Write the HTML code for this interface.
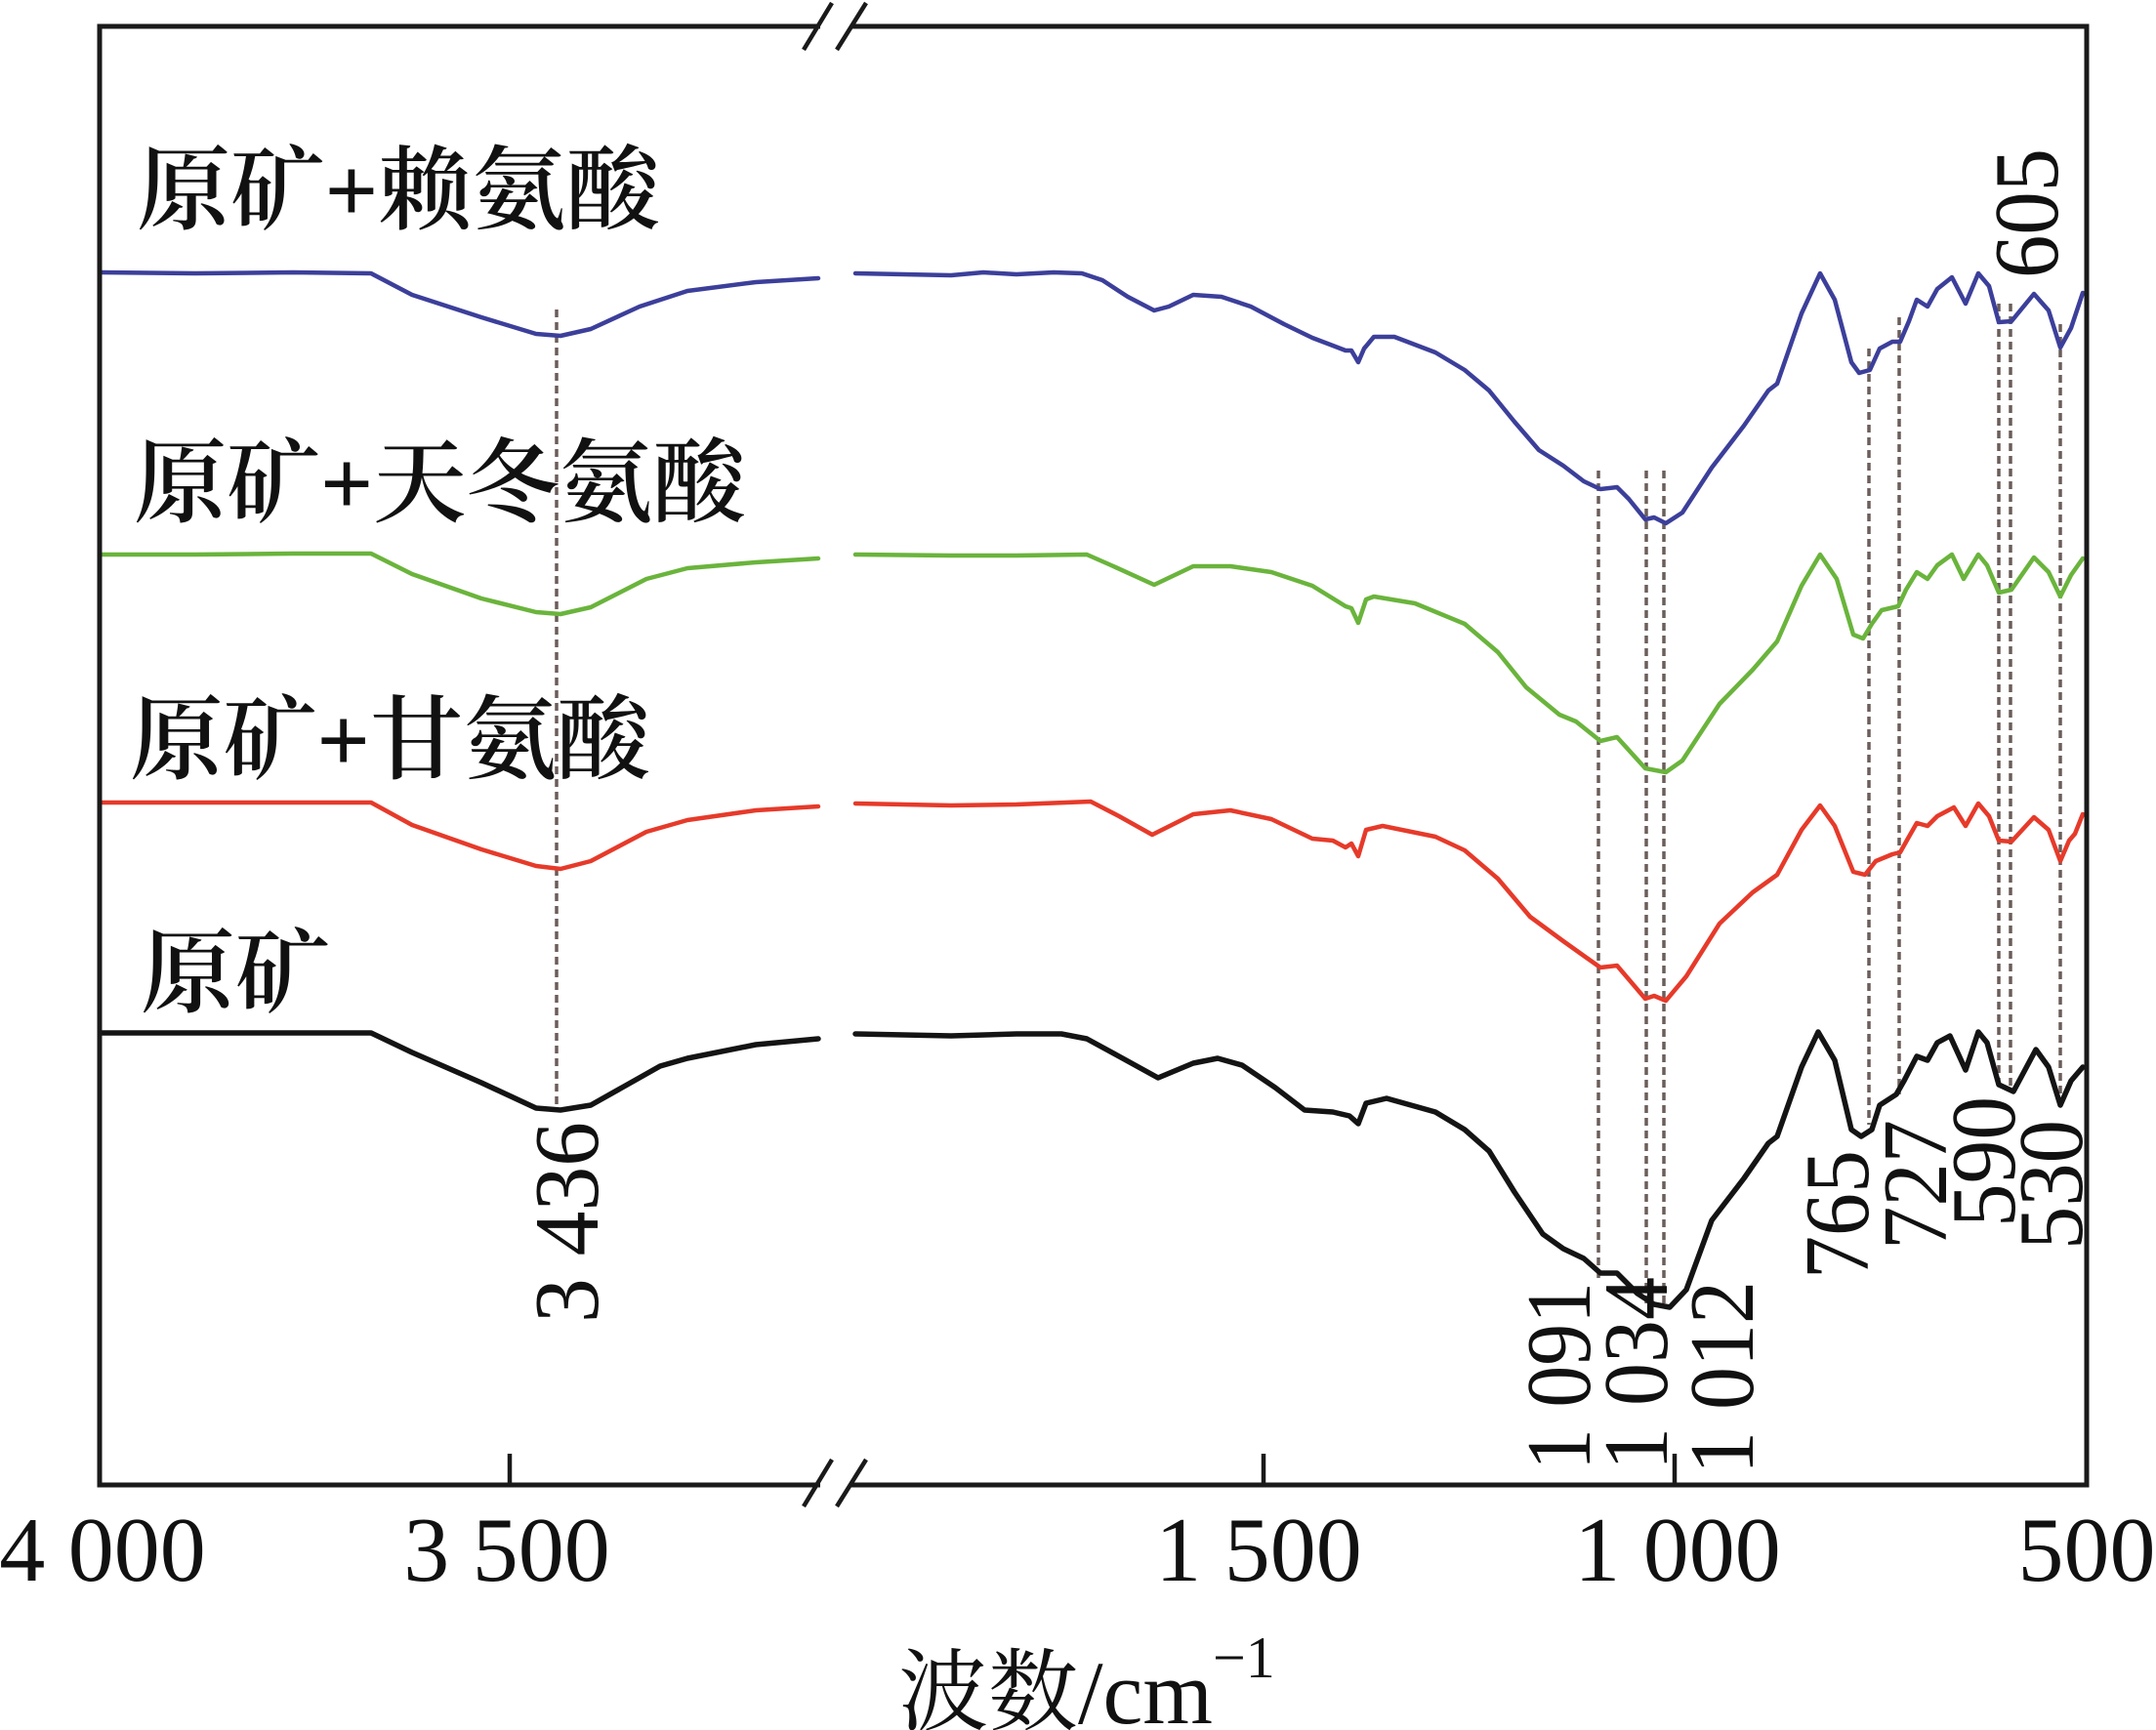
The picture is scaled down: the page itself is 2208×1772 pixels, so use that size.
<!DOCTYPE html>
<html>
<head>
<meta charset="utf-8">
<style>
  html, body { margin: 0; padding: 0; background: #ffffff; }
  svg { display: block; }
  .cjk { font-family: "Liberation Serif", "Noto Serif CJK SC", serif; fill: #111; }
  .num { font-family: "Liberation Serif", "Noto Serif CJK SC", serif; fill: #111; }
</style>
</head>
<body>
<svg width="2208" height="1772" viewBox="0 0 2208 1772" xmlns="http://www.w3.org/2000/svg">
  <rect x="0" y="0" width="2208" height="1772" fill="#ffffff"/>

  <!-- dashed reference lines -->
  <g stroke="#6b5e5a" stroke-width="3.5" stroke-dasharray="8 5" fill="none">
    <line x1="570" y1="317" x2="570" y2="1135"/>
    <line x1="1637" y1="482" x2="1637" y2="1310"/>
    <line x1="1686" y1="482" x2="1686" y2="1338"/>
    <line x1="1704" y1="482" x2="1704" y2="1340"/>
    <line x1="1914" y1="357" x2="1914" y2="1152"/>
    <line x1="1945" y1="325" x2="1945" y2="1121"/>
    <line x1="2047" y1="311" x2="2047" y2="1112"/>
    <line x1="2059" y1="311" x2="2059" y2="1118"/>
    <line x1="2110" y1="332" x2="2110" y2="1125"/>
  </g>

  <!-- curves -->
  <g fill="none" stroke-linejoin="round" stroke-linecap="round">
    <!-- blue -->
    <polyline stroke="#3c3f9a" stroke-width="4.5" points="104,279 200,280 300,279 380,280 422,302 493,325 549,342 574,344 605,337 655,314 704,298 774,289 838,285"/>
    <polyline stroke="#3c3f9a" stroke-width="4.5" points="876,280 974,282 1007,279 1041,281 1079,279 1108,280 1129,287 1155,304 1182,318 1197,314 1222,302 1251,304 1281,314 1315,332 1344,346 1365,354 1378,359 1384,359 1391,371 1397,357 1407,345 1428,345 1470,361 1500,379 1525,400 1551,432 1576,461 1601,477 1622,493 1639,501 1656,499 1668,511 1685,532 1694,530 1706,536 1723,525 1753,479 1786,436 1811,400 1820,393 1845,321 1864,280 1879,307 1896,371 1904,382 1915,379 1925,357 1938,350 1946,350 1955,329 1963,307 1974,314 1984,296 1999,284 2013,311 2026,280 2037,293 2047,330 2060,329 2083,301 2098,318 2110,356 2121,336 2133,300"/>
    <!-- green -->
    <polyline stroke="#6ab43c" stroke-width="4.5" points="104,568 200,568 300,567 380,567 422,588 493,613 549,627 574,629 605,622 662,593 704,582 774,576 838,572"/>
    <polyline stroke="#6ab43c" stroke-width="4.5" points="876,568 974,569 1041,569 1113,568 1138,579 1182,599 1222,580 1260,580 1302,586 1344,600 1378,621 1384,623 1391,638 1399,614 1407,611 1449,618 1500,639 1534,668 1563,704 1597,732 1614,739 1639,759 1656,755 1685,787 1706,791 1723,779 1761,721 1795,686 1820,657 1845,600 1864,568 1881,593 1898,650 1908,654 1917,639 1927,625 1944,621 1952,604 1963,586 1974,593 1984,579 1999,568 2011,593 2026,568 2035,579 2047,607 2060,604 2083,571 2098,586 2110,611 2121,589 2133,572"/>
    <!-- red -->
    <polyline stroke="#e63a2a" stroke-width="4.5" points="104,822 200,822 300,822 380,822 422,845 493,870 549,887 574,890 605,882 662,852 704,840 774,830 838,826"/>
    <polyline stroke="#e63a2a" stroke-width="4.5" points="876,823 974,825 1041,824 1117,821 1146,836 1180,855 1222,834 1260,830 1302,839 1344,859 1365,861 1378,868 1384,864 1391,877 1399,850 1416,846 1470,857 1500,871 1534,900 1567,939 1601,964 1622,979 1639,991 1656,989 1685,1023 1694,1020 1706,1025 1727,1000 1761,946 1795,914 1820,896 1845,850 1864,825 1879,846 1898,893 1910,896 1921,882 1938,875 1946,873 1955,857 1963,843 1974,846 1984,836 2001,827 2013,846 2026,823 2037,836 2047,861 2060,862 2083,837 2098,850 2110,882 2119,861 2125,854 2133,834"/>
    <!-- black -->
    <polyline stroke="#141414" stroke-width="5.5" points="104,1058 200,1058 300,1058 380,1058 422,1078 493,1109 549,1135 574,1137 605,1132 676,1092 704,1084 774,1070 838,1064"/>
    <polyline stroke="#141414" stroke-width="5.5" points="876,1059 974,1061 1041,1059 1087,1059 1113,1064 1146,1082 1186,1104 1222,1089 1247,1084 1272,1091 1306,1114 1336,1137 1365,1139 1382,1143 1391,1151 1399,1130 1420,1125 1470,1139 1500,1157 1525,1179 1551,1221 1580,1264 1601,1279 1622,1289 1639,1304 1656,1304 1677,1325 1694,1336 1710,1339 1727,1321 1753,1250 1786,1207 1811,1171 1820,1164 1845,1093 1862,1057 1879,1086 1896,1157 1906,1164 1917,1157 1925,1132 1942,1121 1950,1107 1963,1082 1974,1086 1984,1068 1997,1061 2013,1096 2026,1057 2035,1068 2047,1111 2062,1118 2085,1075 2098,1093 2110,1132 2121,1107 2133,1093"/>
  </g>

  <!-- frame -->
  <g stroke="#1a1a1a" stroke-width="5" fill="none" stroke-linecap="butt">
    <line x1="102" y1="24.5" x2="102" y2="1523.5"/>
    <line x1="2137" y1="24.5" x2="2137" y2="1523.5"/>
    <line x1="99.5" y1="27" x2="840" y2="27"/>
    <line x1="872" y1="27" x2="2139.5" y2="27"/>
    <line x1="99.5" y1="1521" x2="840" y2="1521"/>
    <line x1="872" y1="1521" x2="2139.5" y2="1521"/>
  </g>
  <!-- break marks -->
  <g stroke="#1a1a1a" stroke-width="4.5">
    <line x1="823" y1="1543" x2="852" y2="1495"/>
    <line x1="857" y1="1543" x2="887" y2="1495"/>
    <line x1="823" y1="51" x2="852" y2="3"/>
    <line x1="857" y1="51" x2="887" y2="3"/>
  </g>
  <!-- ticks -->
  <g stroke="#1a1a1a" stroke-width="4.5">
    <line x1="522" y1="1489" x2="522" y2="1521"/>
    <line x1="1294" y1="1489" x2="1294" y2="1521"/>
    <line x1="1715" y1="1489" x2="1715" y2="1521"/>
  </g>

  <!-- tick labels -->
  <g class="num" font-size="94" text-anchor="middle">
    <text x="105" y="1619">4 000</text>
    <text x="519" y="1619">3 500</text>
    <text x="1289" y="1619">1 500</text>
    <text x="1718" y="1619">1 000</text>
    <text x="2137" y="1619">500</text>
  </g>

  <!-- axis title -->
  <text class="cjk" x="920" y="1765" font-size="92">波数/cm<tspan font-size="60" dy="-47">−1</tspan></text>

  <!-- series labels -->
  <g class="cjk" font-size="94" font-weight="600">
    <text x="140" y="227" textLength="536" lengthAdjust="spacingAndGlyphs">原矿+赖氨酸</text>
    <text x="137" y="527" textLength="627" lengthAdjust="spacingAndGlyphs">原矿+天冬氨酸</text>
    <text x="133" y="790" textLength="533" lengthAdjust="spacingAndGlyphs">原矿+甘氨酸</text>
    <text x="144" y="1029" textLength="194" lengthAdjust="spacingAndGlyphs">原矿</text>
  </g>

  <!-- rotated peak labels -->
  <g class="num" font-size="94">
    <text transform="translate(612,1355) rotate(-90)" textLength="206" lengthAdjust="spacingAndGlyphs">3 436</text>
    <text transform="translate(1628,1506) rotate(-90)" textLength="193" lengthAdjust="spacingAndGlyphs">1 091</text>
    <text transform="translate(1707,1506) rotate(-90)" textLength="198" lengthAdjust="spacingAndGlyphs">1 034</text>
    <text transform="translate(1795,1510) rotate(-90)" textLength="198" lengthAdjust="spacingAndGlyphs">1 012</text>
    <text transform="translate(1913,1310) rotate(-90)" textLength="132" lengthAdjust="spacingAndGlyphs">765</text>
    <text transform="translate(1993,1280) rotate(-90)" textLength="133" lengthAdjust="spacingAndGlyphs">727</text>
    <text transform="translate(2063,1257) rotate(-90)" textLength="134" lengthAdjust="spacingAndGlyphs">590</text>
    <text transform="translate(2132,1280) rotate(-90)" textLength="133" lengthAdjust="spacingAndGlyphs">530</text>
    <text transform="translate(2107,285) rotate(-90)" textLength="133" lengthAdjust="spacingAndGlyphs">605</text>
  </g>
</svg>
</body>
</html>
